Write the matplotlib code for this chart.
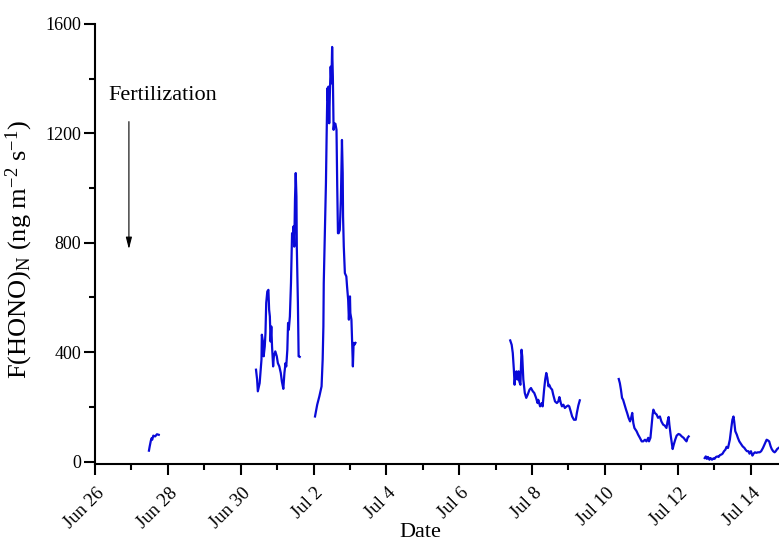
import datetime as dt

import matplotlib
matplotlib.use("Agg")
import matplotlib.pyplot as plt
import matplotlib.dates as mdates
import matplotlib.transforms as mtransforms
import numpy as np
from matplotlib.ticker import FixedLocator, FuncFormatter, MultipleLocator

plt.rcParams["font.family"] = ["Liberation Serif", "DejaVu Serif"]
plt.rcParams["mathtext.fontset"] = "custom"
plt.rcParams["mathtext.rm"] = "Liberation Serif"
plt.rcParams["mathtext.it"] = "Liberation Serif:italic"

START = dt.datetime(2013, 6, 26)

# HONO flux, days after Jun 26 00:00 and ng m-2 s-1
jun27_days = [1.48, 1.50, 1.53, 1.55, 1.57, 1.60, 1.65, 1.70, 1.75]
jun27_flux = [40, 55, 75, 85, 80, 95, 92, 100, 98]

jun30_days = [4.42, 4.45, 4.47, 4.52, 4.57, 4.58, 4.61, 4.63, 4.66, 4.68,
              4.70, 4.73, 4.76, 4.78, 4.80, 4.82, 4.84, 4.86, 4.89, 4.91,
              4.95, 4.99, 5.02, 5.06, 5.10, 5.13, 5.17, 5.20, 5.23, 5.25,
              5.28, 5.30, 5.32, 5.35, 5.38, 5.41, 5.43, 5.45, 5.47, 5.49,
              5.51, 5.53, 5.54, 5.57, 5.59, 5.62]
jun30_flux = [336, 300, 257, 287, 373, 464, 439, 385, 421, 470,
              580, 622, 628, 555, 531, 439, 494, 421, 348, 385,
              403, 385, 360, 348, 324, 293, 266, 324, 360, 348,
              409, 507, 482, 531, 653, 835, 811, 860, 786, 957,
              1055, 969, 786, 580, 385, 383]

jul2_days = [6.04, 6.10, 6.16, 6.22, 6.25, 6.27, 6.28, 6.31, 6.34, 6.36,
             6.38, 6.39, 6.41, 6.43, 6.45, 6.47, 6.49, 6.51, 6.53, 6.55,
             6.57, 6.60, 6.63, 6.65, 6.67, 6.69, 6.72, 6.75, 6.78, 6.80,
             6.81, 6.83, 6.86, 6.90, 6.92, 6.95, 6.97, 7.00, 7.01, 7.04,
             7.06, 7.08, 7.10, 7.12, 7.15]
jul2_flux = [165, 208, 239, 275, 373, 494, 653, 835, 1018, 1201,
             1365, 1322, 1371, 1237, 1359, 1444, 1383, 1516, 1407, 1213,
             1237, 1235, 1213, 1006, 835, 835, 847, 957, 1176, 1055,
             896, 786, 689, 677, 640, 592, 519, 604, 543, 519,
             434, 348, 434, 427, 434]

jul7_days = [11.40, 11.44, 11.47, 11.50, 11.52, 11.54, 11.57, 11.60, 11.63, 11.65,
             11.68, 11.71, 11.73, 11.76, 11.80, 11.84, 11.88, 11.93, 11.97, 12.02,
             12.06, 12.11, 12.15, 12.17, 12.22, 12.27, 12.29, 12.33, 12.36, 12.39,
             12.42, 12.45, 12.47, 12.51, 12.55, 12.58, 12.63, 12.68, 12.72, 12.75,
             12.79, 12.82, 12.86, 12.90, 12.95, 12.99, 13.02, 13.06, 13.10, 13.15,
             13.20, 13.23, 13.27, 13.31]
jul7_flux = [443, 427, 397, 336, 281, 312, 330, 300, 330, 293,
             281, 409, 385, 300, 251, 233, 245, 263, 269, 257,
             251, 233, 214, 226, 202, 214, 202, 263, 300, 324,
             306, 275, 281, 269, 263, 245, 220, 214, 220, 236,
             214, 202, 208, 196, 202, 205, 202, 184, 165, 153,
             153, 178, 205, 224]

jul10_days = [14.38, 14.41, 14.44, 14.47, 14.50, 14.54, 14.58, 14.61, 14.65, 14.69,
              14.72, 14.75, 14.78, 14.81, 14.87, 14.91, 14.96, 15.01, 15.05, 15.10,
              15.14, 15.19, 15.21, 15.25, 15.28, 15.31, 15.33, 15.37, 15.42, 15.46,
              15.51, 15.55, 15.60, 15.64, 15.69, 15.72, 15.75, 15.77, 15.81, 15.86,
              15.89, 15.93, 15.97, 16.02, 16.06, 16.11, 16.16, 16.20, 16.24, 16.27,
              16.30]
jul10_flux = [302, 287, 263, 233, 226, 208, 190, 178, 160, 147,
              160, 178, 141, 123, 111, 99, 87, 74, 74, 80,
              74, 87, 74, 87, 129, 172, 190, 178, 172, 160,
              165, 147, 135, 132, 123, 147, 163, 135, 92, 46,
              62, 80, 95, 101, 99, 92, 87, 80, 74, 87,
              92]

jul13_days = [16.74, 16.77, 16.80, 16.83, 16.87, 16.90, 16.94, 16.98, 17.01, 17.05,
              17.09, 17.12, 17.16, 17.20, 17.23, 17.27, 17.31, 17.34, 17.38, 17.41,
              17.43, 17.47, 17.50, 17.53, 17.55, 17.58, 17.62, 17.65, 17.69, 17.73,
              17.78, 17.83, 17.86, 17.90, 17.94, 17.97, 18.01, 18.05, 18.08, 18.12,
              18.16, 18.20, 18.25, 18.29, 18.34, 18.36, 18.40, 18.44, 18.47, 18.51,
              18.55, 18.58, 18.62, 18.66, 18.69, 18.73, 18.77]
jul13_flux = [13, 19, 10, 17, 7, 13, 7, 12, 10, 17,
              19, 17, 24, 26, 29, 38, 44, 54, 50, 68,
              80, 123, 153, 165, 147, 111, 99, 87, 74, 66,
              56, 50, 44, 38, 38, 29, 38, 22, 29, 34,
              32, 34, 34, 38, 50, 56, 68, 80, 78, 74,
              56, 46, 38, 34, 38, 46, 50]

segments = [
    (jun27_days, jun27_flux),
    (jun30_days, jun30_flux),
    (jul2_days, jul2_flux),
    (jul7_days, jul7_flux),
    (jul10_days, jul10_flux),
    (jul13_days, jul13_flux),
]

t0 = mdates.date2num(START)

fig = plt.figure(figsize=(7.79, 5.45), dpi=100)
ax = fig.add_axes([0.122, 0.148, 0.878, 0.808])

for days, flux in segments:
    ax.plot(t0 + np.array(days), flux, color="#0a0ad8", lw=1.6)

# fertilization marker
ax.annotate("", xy=(t0 + 0.93, 777), xytext=(t0 + 0.93, 1243),
            arrowprops=dict(arrowstyle="-|>,head_length=0.7,head_width=0.18",
                            color="black", lw=0.8, shrinkA=0, shrinkB=0))
ax.text(t0 + 0.37, 1340, "Fertilization", fontsize=16, va="center", ha="left")

ax.set_xlim(t0, t0 + 18.78)
ax.set_ylim(-10, 1600)

ax.xaxis.set_major_locator(FixedLocator(t0 + np.arange(0, 19, 2)))
ax.xaxis.set_minor_locator(FixedLocator(t0 + np.arange(1, 19, 2)))


def date_label(x, pos):
    d = mdates.num2date(x)
    return f"{d:%b} {d.day}"


ax.xaxis.set_major_formatter(FuncFormatter(date_label))
ax.yaxis.set_major_locator(MultipleLocator(400))
ax.yaxis.set_minor_locator(MultipleLocator(200))

for s in ["top", "right"]:
    ax.spines[s].set_visible(False)
for s in ["left", "bottom"]:
    ax.spines[s].set_linewidth(1.5)

ax.tick_params(which="major", direction="out", length=8, width=1.5)
ax.tick_params(which="minor", direction="out", length=4.5, width=1.5)
ax.tick_params(axis="y", labelsize=13, pad=2)
ax.tick_params(axis="x", labelsize=13.5, pad=8)

# rotated date labels sit a little right of their ticks
shift = mtransforms.ScaledTranslation(0.07, -0.04, fig.dpi_scale_trans)
for lbl in ax.get_xticklabels():
    lbl.set_rotation(45)
    lbl.set_ha("right")
    lbl.set_va("center")
    lbl.set_rotation_mode("anchor")
    lbl.set_transform(lbl.get_transform() + shift)

ax.set_xlabel("Date", fontsize=16)
ax.xaxis.set_label_coords(0.475, -0.133)
ax.set_ylabel(r"F(HONO)$_\mathrm{N}$ (ng m$^{-2}$ s$^{-1}$)", fontsize=19)
ax.yaxis.set_label_coords(-0.088, 0.487)

fig.savefig("out.png", dpi=100)
